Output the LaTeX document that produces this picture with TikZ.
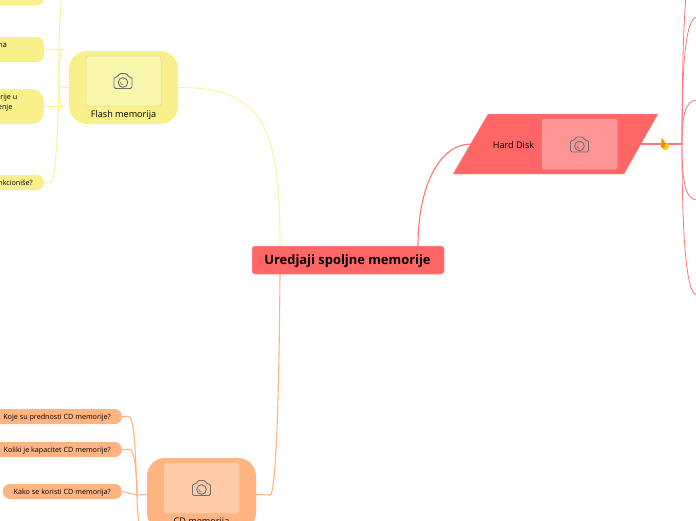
\documentclass[tikz,border=0pt]{standalone}
\usepackage{fontspec}
\setmainfont{Open Sans}
\usetikzlibrary{positioning}

\definecolor{rootred}{HTML}{FF6666}
\definecolor{rootedge}{HTML}{FF9C9C}
\definecolor{flashyel}{HTML}{F8F18B}
\definecolor{flashimg}{HTML}{F9F6AE}
\definecolor{flashline}{HTML}{F9F4A0}
\definecolor{cdorange}{HTML}{FFB482}
\definecolor{cdimg}{HTML}{FFCBA8}
\definecolor{hdimg}{HTML}{FF9494}
\definecolor{iconcol}{HTML}{6E6E72}

\tikzset{
  camera/.pic={
    \draw[iconcol, line width=0.9pt, rounded corners=1.5pt]
      (-9,7.5) -- (9,7.5) -- (9,-4) -- (5,-4) -- (4,-7.5) -- (-4,-7.5) -- (-5,-4)
      -- (-9,-4) -- cycle;
    \draw[iconcol, line width=0.9pt] (0,1.5) circle (4.8);
    \draw[iconcol, line width=0.6pt] (-2.6,1.2) arc (180:90:2.6);
  },
  flame/.pic={
    \fill[yellow!70!orange] (-3,-1) .. controls (-5,3) and (-3,6) .. (0,6)
      .. controls (3.5,6) and (5,2.5) .. (2.5,-1.5)
      .. controls (2,0) and (1,0) .. (0.5,0.5) -- cycle;
    \fill[orange!90!yellow] (-3.6,-6) -- (-0.5,-2.5) -- (0.5,1) -- (-1,4) -- (-3.8,3) -- cycle;
  }
}

\begin{document}
\begin{tikzpicture}[
  x=1pt, y=-1pt,
  font=\fontsize{9.1}{11}\selectfont,
  rootbox/.style={rectangle, rounded corners=3pt, draw=rootedge, line width=0.5pt, fill=rootred,
                  minimum width=192pt, minimum height=28pt, inner sep=0pt,
                  font=\fontsize{12.9}{15}\selectfont\bfseries},
  mainbox/.style={rectangle, rounded corners=18pt, minimum width=109pt, minimum height=73pt, inner sep=0pt},
  imgbox/.style={rectangle, rounded corners=2.5pt, minimum width=75pt, minimum height=50pt, inner sep=0pt, line width=0.5pt},
  hdbox/.style={draw=rootedge, fill=rootred},
  leaf/.style={rectangle, rounded corners=7pt, inner sep=0pt, minimum height=15pt, minimum width=150pt},
  tiny/.style={font=\fontsize{7.2}{10}\selectfont, inner sep=0pt, align=right},
  link/.style={line width=1.1pt},
  redlink/.style={link, draw=rootred!90!white},
  yellink/.style={link, draw=flashline},
  orglink/.style={link, draw=cdorange}
]
\clip (0,0) rectangle (696,520);

% free ends on the right border
\coordinate (hub) at (682,144);
\coordinate (ra) at (686,-4);
\coordinate (rb) at (697,17);
\coordinate (rc) at (697,100);
\coordinate (rd) at (697,200);
\coordinate (re) at (697,295);
\coordinate (yhub) at (59,87);
\coordinate (ohub) at (137,495);
\coordinate (odown) at (139,525);

\node[rootbox] (root) at (348,260) {};
\node[inner sep=0pt, font=\fontsize{12.9}{15}\selectfont\bfseries] (roottxt) at (347.5,260.8) {Uredjaji spoljne memorije};

\node[mainbox, fill=flashyel] (flash) at (123.5,87.5) {};
\node[imgbox, fill=flashimg, draw=flashline!80!gray] (flashimg) at (123.5,81) {};
\pic at (123,81) {camera};
\node[inner sep=0pt] (flashtxt) at (123.5,114.8) {Flash memorija};

\node[mainbox, fill=cdorange] (cd) at (201.5,494.5) {};
\node[imgbox, fill=cdimg, draw=cdimg!90!gray] (cdimg) at (201.5,488) {};
\pic at (201.5,488) {camera};
\node[inner sep=0pt] (cdtxt) at (201.5,521.8) {CD memorija};

\draw[hdbox] (453,174) -- (488,114) -- (658,114) -- (624,174) -- cycle;
\coordinate (hdw) at (471,144);
\coordinate (hde) at (641,144);
\node[inner sep=0pt] (hdtxt) at (513.5,145.3) {Hard Disk};
\node[imgbox, fill=hdimg, draw=hdimg!85!white] (hdimg) at (579.5,144) {};
\pic at (579.5,144.5) {camera};

% yellow leaves
\node[leaf, fill=flashyel, anchor=east, minimum height=21pt] (ya) at (44,-5) {};
\node[leaf, fill=flashyel, anchor=east, minimum height=25pt] (yb) at (44,49.5) {};
\node[leaf, fill=flashyel, anchor=east, minimum height=35pt, rounded corners=12pt] (yc) at (44,106.5) {};
\node[leaf, fill=flashyel, anchor=east] (yd) at (44,182.5) {};
\node[tiny, anchor=east] (ybt) at (7,46) {na};
\node[tiny, anchor=east] (yct) at (17.5,102.5) {rije u\\enje\hspace*{5pt}\mbox{}};
\node[tiny, anchor=east] (ydt) at (33,183.2) {nkcioniše?};

% orange leaves
\node[leaf, fill=cdorange, anchor=east] (oa) at (122,416.5) {};
\node[leaf, fill=cdorange, anchor=east] (ob) at (122,449.5) {};
\node[leaf, fill=cdorange, anchor=east, minimum width=119pt] (oc) at (122,491.5) {};
\node[tiny, anchor=east] (oat) at (111,417.2) {Koje su prednosti CD memorije?};
\node[tiny, anchor=east] (obt) at (111,450.2) {Koliki je kapacitet CD memorije?};
\node[tiny, anchor=east] (oct) at (111,492.7) {Kako se koristi CD memorija?};

% links from the root
\draw[yellink] (root.north -| 280,0) .. controls (280,130) and (265,87) .. (flash.east);
\draw[redlink] (root.north -| 418,0) .. controls (418,185) and (440,144) .. (hdw);
\draw[orglink] (root.south -| 280,0) .. controls (279,400) and (276,495) .. (270,495) -- (cd.east);

% yellow links
\draw[yellink] (flash.west) -- (yhub);
\draw[yellink] (yb.east) -- (63,49.5) .. controls (58,56) and (58,80) .. (yhub);
\draw[yellink] (yc.east) -- (63,106.5) .. controls (60,103) and (59,95) .. (yhub);
\draw[yellink] (yhub) .. controls (59,50) and (59,20) .. (62,-6);
\draw[yellink] (yd.east) -- (51,182.5) .. controls (56,182) and (58,120) .. (yhub);

% orange links
\draw[orglink] (cd.west) -- (ohub);
\draw[orglink] (oa.east) -- (129,416.5) .. controls (135,417) and (136,470) .. (ohub);
\draw[orglink] (ob.east) -- (130,449.5) .. controls (135,450) and (137,480) .. (ohub);
\draw[orglink] (oc.east) -- (ohub);
\draw[orglink] (ohub) .. controls (137,505) and (138,515) .. (odown);

% links on the right
\draw[redlink] (hde) -- (hub);
\draw[redlink, line width=0.8pt] (hub) .. controls (682,90) and (683,30) .. (ra);
\draw[redlink, line width=0.8pt] (hub) .. controls (682,80) and (684,17) .. (rb);
\draw[redlink, line width=0.8pt] (hub) .. controls (682,120) and (684,100) .. (rc);
\draw[redlink, line width=0.8pt] (hub) .. controls (682,175) and (684,200) .. (rd);
\draw[redlink, line width=0.8pt] (hub) .. controls (682,210) and (684,295) .. (re);

\pic at (665,144) {flame};
\end{tikzpicture}
\end{document}
